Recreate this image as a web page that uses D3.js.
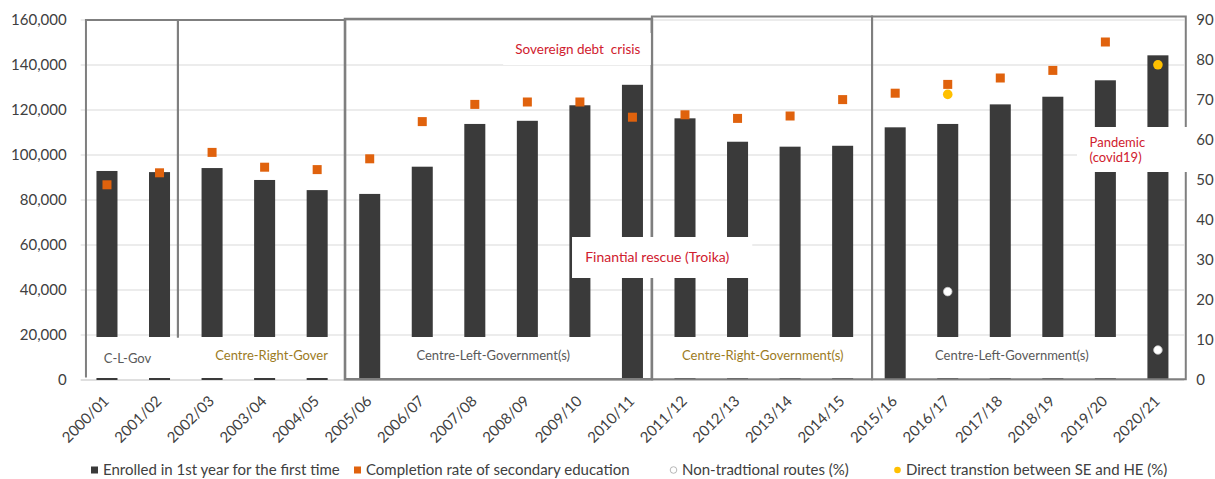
<!DOCTYPE html>
<html>
<head>
<meta charset="utf-8">
<script src="https://cdn.jsdelivr.net/npm/d3@7"></script>
<style>
  body { margin: 0; background: #fff; }
  svg { font-family: Lato, "Open Sans", sans-serif; }
</style>
</head>
<body>
<div id="chart"></div>
<script>
const years = ['2000/01','2001/02','2002/03','2003/04','2004/05','2005/06','2006/07','2007/08','2008/09','2009/10',
  '2010/11','2011/12','2012/13','2013/14','2014/15','2015/16','2016/17','2017/18','2018/19','2019/20','2020/21']
const enrolled = [92900, 92400, 94200, 88900, 84400, 82700, 94800, 113800, 115200, 122100,
  131200, 116300, 105900, 103700, 104100, 112300, 113800, 122500, 125900, 133200, 144300]
const completion = [48.8, 51.8, 56.9, 53.2, 52.6, 55.3, 64.6, 68.9, 69.5, 69.5,
  65.7, 66.3, 65.4, 66.0, 70.1, 71.7, 73.9, 75.5, 77.4, 84.5, null]
const nonTraditional = [null, null, null, null, null, null, null, null, null, null,
  null, null, null, null, null, null, 22.1, null, null, null, 7.5]
const directTransition = [null, null, null, null, null, null, null, null, null, null,
  null, null, null, null, null, null, 71.4, null, null, null, 78.8]
const leftTicks = [0, 20000, 40000, 60000, 80000, 100000, 120000, 140000, 160000]
const rightTicks = [0, 10, 20, 30, 40, 50, 60, 70, 80, 90]

// government periods (box edges given in band-step units)
const periods = [
  {from: 0.1, to: 1.85, top: 20, bottom: 377.5, open: true, leftEnd: 377.5},
  {from: 1.85, to: 5.03, top: 20, bottom: 377.5, open: true, leftEnd: 337.5},
  {from: 5.03, to: 10.87, top: 19, bottom: 379.3, w: 2.6},
  {from: 10.87, to: 15.06, top: 16.5, bottom: 379.3},
  {from: 15.06, to: 21.03, top: 16.5, bottom: 379.3}
]
// white label panels at the bottom of the periods
const panels = [
  {from: 0.16, to: 4.88, texts: [{t: 'C-L-Gov', at: 0.44, anchor: 'start', color: '#595959', dy: 3},
                                 {t: 'Centre-Right-Gover', at: 2.56, anchor: 'start', color: '#9c7b1e', dy: 0}]},
  {from: 5.73, to: 10.28, texts: [{t: 'Centre-Left-Government(s)', at: 7.85, anchor: 'middle', color: '#595959', dy: 0}]},
  {from: 11.06, to: 14.98, texts: [{t: 'Centre-Right-Government(s)', at: 12.98, anchor: 'middle', color: '#9c7b1e', dy: 0}]},
  {from: 16.1, to: 20.25, texts: [{t: 'Centre-Left-Government(s)', at: 17.72, anchor: 'middle', color: '#595959', dy: 0}]}
]
// event callouts
const events = [
  {lines: ['Sovereign debt  crisis'], from: 8.04, to: 10.85, top: 33, bottom: 65, tx: 8.27, size: 13.5},
  {lines: ['Finantial rescue (Troika)'], from: 9.35, to: 12.78, top: 237, bottom: 278, tx: 9.6, size: 14},
  {lines: ['Pandemic', '(covid19)'], from: 18.96, to: 21.12, top: 127, bottom: 172, tx: 19.2, size: 13}
]

const width = 1215, height = 479
const plotTop = 20, plotBottom = 380, plotLeft = 80.7, plotRight = 1184.2

const svg = d3.select('#chart').append('svg')
  .attr('width', width)
  .attr('height', height)

const x = d3.scaleBand().domain(years).range([plotLeft, plotRight]).paddingInner(0.6).paddingOuter(0.3)
const step = d3.scaleLinear().domain([0, years.length]).range([plotLeft, plotRight])
const y = d3.scaleLinear().domain([0, 160000]).range([plotBottom, plotTop])
const y2 = d3.scaleLinear().domain([0, 90]).range([plotBottom, plotTop])

// gridlines
svg.append('g')
  .selectAll('line')
  .data(leftTicks.slice(1))
  .join('line')
  .attr('x1', plotLeft).attr('x2', plotRight)
  .attr('y1', d => y(d)).attr('y2', d => y(d))
  .attr('stroke', '#d9d9d9').attr('stroke-width', 1)

svg.append('line')
  .attr('x1', plotLeft).attr('x2', plotRight)
  .attr('y1', plotBottom).attr('y2', plotBottom)
  .attr('stroke', '#bfbfbf')

// left axis
const leftAxis = svg.append('g')
  .attr('transform', `translate(${plotLeft - 14},0)`)
  .call(d3.axisLeft(y).tickValues(leftTicks).tickFormat(d3.format(',')).tickSize(0).tickPadding(0))
leftAxis.select('.domain').remove()
leftAxis.selectAll('text').attr('font-size', 15).attr('fill', '#404040').attr('font-family', 'Lato')

// right axis
const rightAxis = svg.append('g')
  .attr('transform', `translate(${plotRight + 12},0)`)
  .call(d3.axisRight(y2).tickValues(rightTicks).tickSize(0).tickPadding(0))
rightAxis.select('.domain').remove()
rightAxis.selectAll('text').attr('font-size', 15).attr('fill', '#404040').attr('font-family', 'Lato')

// x axis labels
const xAxis = svg.append('g')
  .attr('transform', `translate(0,${plotBottom})`)
  .call(d3.axisBottom(x).tickSize(0).tickPadding(0))
xAxis.select('.domain').remove()
xAxis.selectAll('text')
  .attr('font-size', 15).attr('fill', '#404040').attr('font-family', 'Lato')
  .attr('text-anchor', 'end')
  .attr('transform', 'translate(3,22) rotate(-45)')
  .attr('dy', '0')

// bars
svg.append('g')
  .selectAll('rect')
  .data(years)
  .join('rect')
  .attr('x', d => x(d))
  .attr('width', x.bandwidth())
  .attr('y', (d, i) => y(enrolled[i]))
  .attr('height', (d, i) => plotBottom - y(enrolled[i]))
  .attr('fill', '#3a3a3a')

// label panels
const panel = svg.append('g')
  .selectAll('g')
  .data(panels)
  .join('g')
panel.append('rect')
  .attr('x', d => step(d.from))
  .attr('width', d => step(d.to) - step(d.from))
  .attr('y', 337).attr('height', 41)
  .attr('fill', '#fff')
panel.selectAll('text')
  .data(d => d.texts)
  .join('text')
  .attr('x', d => step(d.at))
  .attr('y', d => 360 + d.dy)
  .attr('text-anchor', d => d.anchor)
  .attr('font-size', 13)
  .attr('fill', d => d.color)
  .text(d => d.t)

// period boxes
svg.append('g')
  .selectAll('path')
  .data(periods)
  .join('path')
  .attr('d', d => {
    const x0 = step(d.from), x1 = step(d.to)
    return d.open
      ? `M${x0},${d.leftEnd}V${d.top}H${x1}V${d.bottom - 40}`
      : `M${x0},${d.bottom}V${d.top}H${x1}V${d.bottom}Z`
  })
  .attr('fill', 'none')
  .attr('stroke', '#7f7f7f')
  .attr('stroke-width', d => d.w || 2)

// completion squares
svg.append('g')
  .selectAll('rect')
  .data(years.filter((d, i) => completion[i] != null))
  .join('rect')
  .attr('x', d => x(d) + x.bandwidth() / 2 - 4.5)
  .attr('y', d => y2(completion[years.indexOf(d)]) - 4.5)
  .attr('width', 9).attr('height', 9)
  .attr('fill', '#e0620d')

// non-traditional routes
svg.append('g')
  .selectAll('circle')
  .data(years.filter((d, i) => nonTraditional[i] != null))
  .join('circle')
  .attr('cx', d => x(d) + x.bandwidth() / 2)
  .attr('cy', d => y2(nonTraditional[years.indexOf(d)]))
  .attr('r', 4.3)
  .attr('fill', '#fff')
  .attr('stroke', '#bfbfbf').attr('stroke-width', 0.8)

// direct transition
svg.append('g')
  .selectAll('circle')
  .data(years.filter((d, i) => directTransition[i] != null))
  .join('circle')
  .attr('cx', d => x(d) + x.bandwidth() / 2)
  .attr('cy', d => y2(directTransition[years.indexOf(d)]))
  .attr('r', 4.8)
  .attr('fill', '#ffc000')

// event callouts
const ev = svg.append('g')
  .selectAll('g')
  .data(events)
  .join('g')
ev.append('rect')
  .attr('x', d => step(d.from))
  .attr('width', d => step(d.to) - step(d.from))
  .attr('y', d => d.top)
  .attr('height', d => d.bottom - d.top)
  .attr('fill', '#fff')
ev.each(function (d) {
  const g = d3.select(this)
  const lh = 15
  const y0 = (d.top + d.bottom) / 2 - (d.lines.length - 1) * lh / 2 + 4.5
  d.lines.forEach((l, i) => {
    g.append('text')
      .attr('x', step(d.tx))
      .attr('y', y0 + i * lh)
      .attr('font-size', d.size)
      .attr('fill', '#d0202e')
      .style('white-space', 'pre')
      .text(l)
  })
})

// legend
const legendItems = [
  {label: 'Enrolled in 1st year for the first time', type: 'square', color: '#3a3a3a', x: 91},
  {label: 'Completion rate of secondary education', type: 'square', color: '#e0620d', x: 354},
  {label: 'Non-tradtional routes (%)', type: 'hollow', color: '#fff', x: 670},
  {label: 'Direct transtion between SE and HE (%)', type: 'dot', color: '#ffc000', x: 894}
]
const lg = svg.append('g').attr('transform', 'translate(0,470)')
  .selectAll('g')
  .data(legendItems)
  .join('g')
  .attr('transform', d => `translate(${d.x},0)`)
lg.filter(d => d.type === 'square').append('rect')
  .attr('x', 0).attr('y', -3.5).attr('width', 7).attr('height', 7)
  .attr('fill', d => d.color)
lg.filter(d => d.type !== 'square').append('circle')
  .attr('cx', 3.5).attr('cy', 0).attr('r', 3.3)
  .attr('fill', d => d.color)
  .attr('stroke', d => d.type === 'hollow' ? '#a6a6a6' : 'none')
  .attr('stroke-width', 0.8)
lg.append('text')
  .attr('x', 12)
  .attr('y', 5)
  .attr('font-size', 15)
  .attr('fill', '#404040')
  .text(d => d.label)
</script>
</body>
</html>
